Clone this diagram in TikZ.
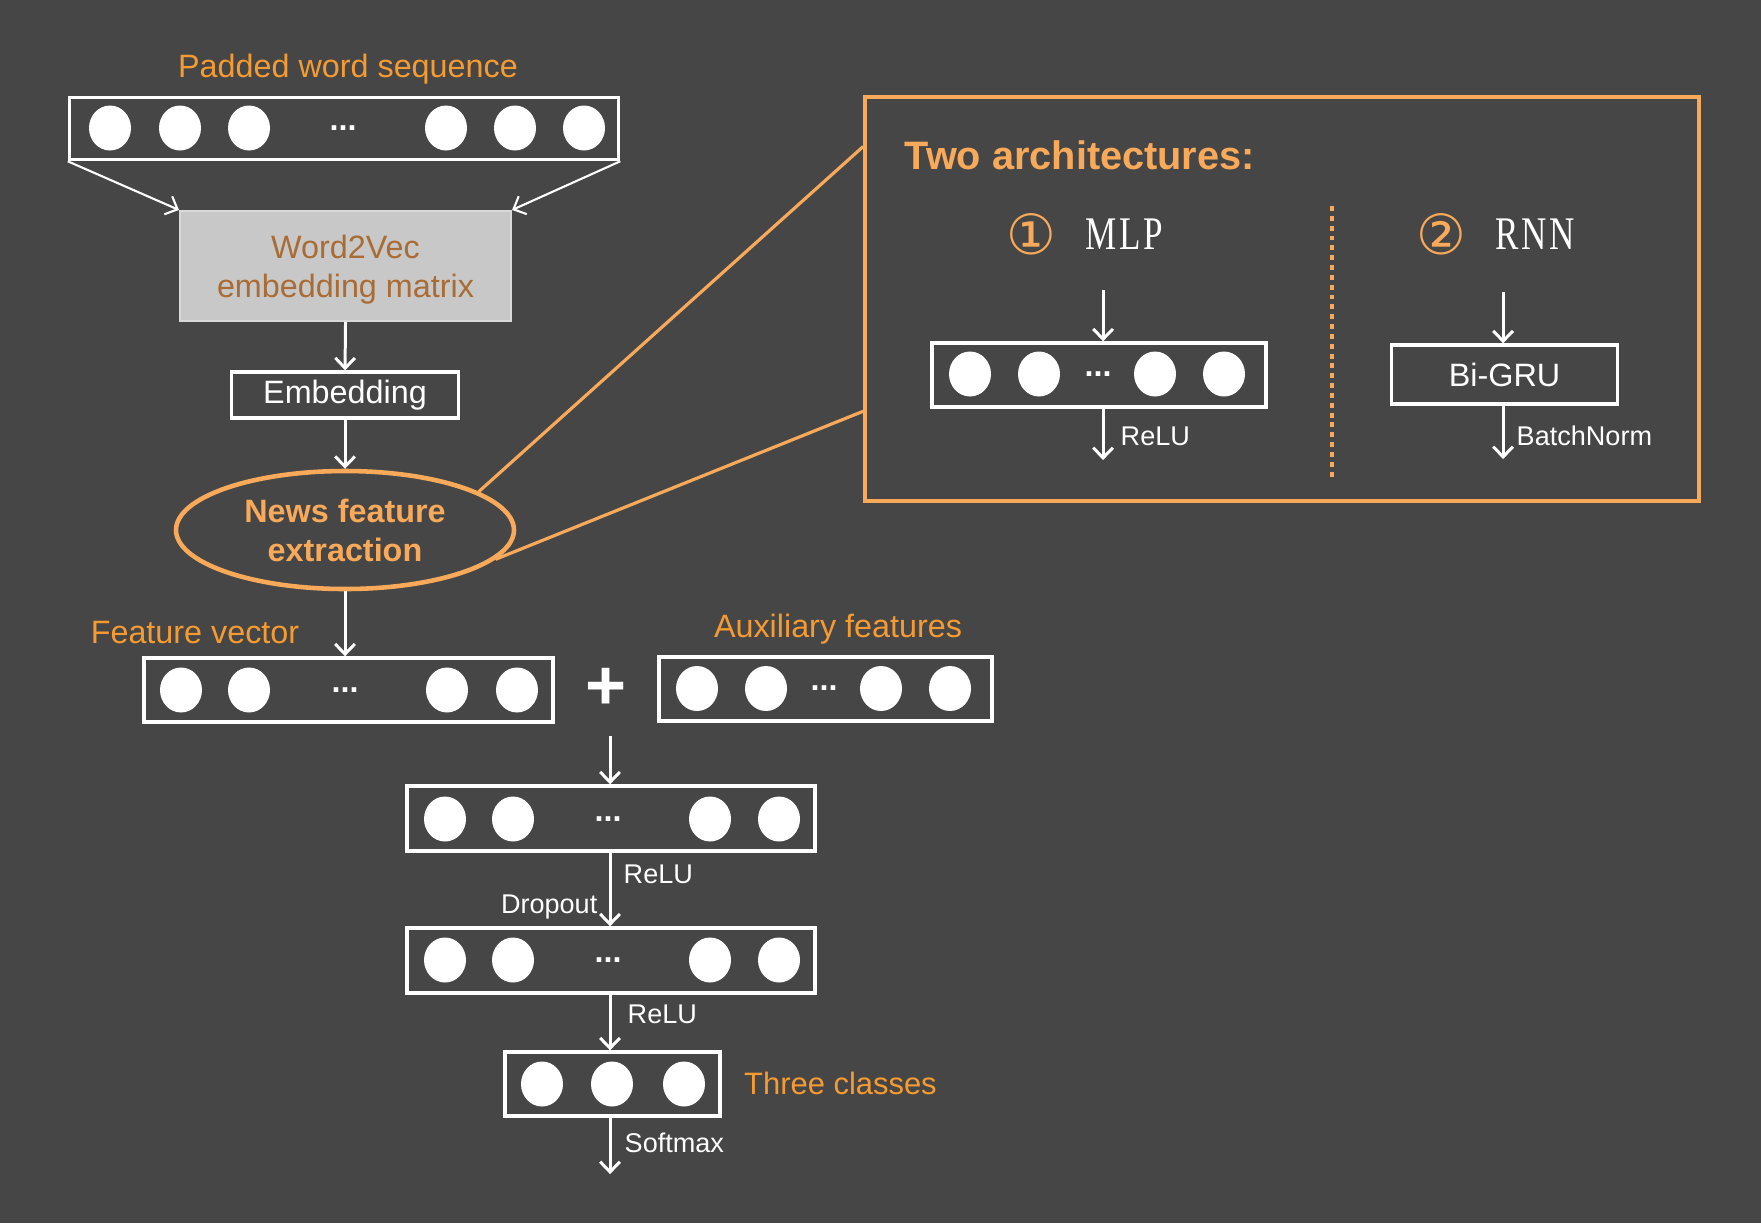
\documentclass[tikz,border=0pt]{standalone}
\usepackage{graphicx}
\usepackage{fontspec}
\setmainfont{Liberation Sans}
\newfontfamily\circledfont{DejaVu Sans}
\newfontfamily\archfont{Liberation Serif}
\usetikzlibrary{arrows.meta,shapes.geometric}

\definecolor{slate}{RGB}{70,70,70}
\definecolor{amber}{RGB}{245,155,50}
\definecolor{peach}{RGB}{248,170,90}
\definecolor{umber}{RGB}{168,108,52}
\definecolor{matrixgray}{RGB}{200,200,200}

\newcommand{\archname}[1]{\scalebox{0.75}[1]{#1}}

\tikzset{
  layer/.style={draw=white, line width=1pt, inner sep=0pt},
  body/.style={text=white, font=\fontsize{9.2}{11.1}\selectfont, inner sep=0pt},
  caption/.style={text=amber, font=\fontsize{9.2}{11.1}\selectfont, inner sep=0pt},
  actlabel/.style={text=white, font=\fontsize{7.7}{9}\selectfont, inner sep=0pt, anchor=west},
  ellip/.style={text=white, font=\fontsize{9.2}{11}\selectfont\bfseries, inner sep=0pt},
  flow/.style={draw=white, line width=0.85pt, -{Straight Barb[length=2.9pt,width=5.6pt]}},
  zoomline/.style={draw=peach, line width=0.9pt},
}

\begin{document}
\begin{tikzpicture}[scale=0.1]
                \fill [slate] (0,0) rectangle (176.1,-122.3);
                \useasboundingbox (0,0) rectangle (176.1,-122.3);
                % word sequence and embedding
                \node [caption] (seqlabel) at (34.8,-6.95) {Padded word sequence};
                \node [layer, minimum width=54.9mm, minimum height=6.2mm] (seq) at (34.4,-12.85) {};
                \fill [white] (11.0,-12.8) ellipse (2.1 and 2.25);
                \fill [white] (18.0,-12.8) ellipse (2.1 and 2.25);
                \fill [white] (24.9,-12.8) ellipse (2.1 and 2.25);
                \fill [white] (44.6,-12.8) ellipse (2.1 and 2.25);
                \fill [white] (51.5,-12.8) ellipse (2.1 and 2.25);
                \fill [white] (58.4,-12.8) ellipse (2.1 and 2.25);
                \node [ellip] (seqdots) at (34.3,-12.8) {...};
                \node [fill=matrixgray, draw=matrixgray!70!white, line width=0.6pt, minimum width=33.1mm, minimum height=11.0mm, inner sep=0pt] (w2v) at (34.55,-26.6) {};
                \node [text=umber, font=\fontsize{9.2}{11.1}\selectfont, align=center, inner sep=0pt] (w2vtext) at (34.55,-27.0) {Word2Vec\\embedding matrix};
                \node [layer, body, minimum width=22.7mm, minimum height=4.6mm] (emb) at (34.5,-39.5) {Embedding};
                \node [ellipse, draw=peach, line width=1.3pt, minimum width=33.8mm, minimum height=11.8mm, inner sep=0pt,
                       text=peach, font=\fontsize{9.2}{11.1}\selectfont\bfseries, align=center] (news) at (34.5,-53.0) {News feature\\extraction};
                \draw [flow, line width=0.6pt] (seq.south west) -- (w2v.north west);
                \draw [flow, line width=0.6pt] (seq.south east) -- (w2v.north east);
                \draw [flow] (w2v.south) -- (emb.north);
                \draw [flow] (emb.south) -- (news.north);
                % the two architectures
                \node [draw=peach, line width=1.1pt, minimum width=83.4mm, minimum height=40.4mm, inner sep=0pt] (arch) at (128.2,-29.9) {};
                \draw [zoomline] (news.16) -- (arch.160.2);
                \draw [zoomline] (news.-11) -- (arch.195.6);
                \node [text=peach, font=\fontsize{11.3}{13}\selectfont\bfseries, anchor=west, inner sep=0pt] (archtitle) at (90.4,-15.5) {Two architectures:};
                \node [text=peach, font=\circledfont\fontsize{15.8}{18}\selectfont, inner sep=0pt] (mlpnum) at (103.1,-23.4) {①};
                \node [text=white, font=\archfont\fontsize{13.3}{15}\selectfont, inner sep=0pt] (mlpname) at (112.4,-23.4) {\archname{M\kern1pt L\kern1pt P}};
                \node [text=peach, font=\circledfont\fontsize{15.8}{18}\selectfont, inner sep=0pt] (rnnnum) at (144.1,-23.4) {②};
                \node [text=white, font=\archfont\fontsize{13.3}{15}\selectfont, inner sep=0pt] (rnnname) at (153.5,-23.4) {\archname{R\kern1pt N\kern1pt N}};
                \draw [peach, line width=0.9pt, dash pattern=on 1.4pt off 1.4pt] (133.2,-20.6) -- (133.2,-47.7);
                \node [layer, minimum width=33.4mm, minimum height=6.4mm] (mlp) at (109.9,-37.5) {};
                \fill [white] (97.0,-37.4) ellipse (2.1 and 2.25);
                \fill [white] (103.9,-37.4) ellipse (2.1 and 2.25);
                \fill [white] (115.5,-37.4) ellipse (2.1 and 2.25);
                \fill [white] (122.4,-37.4) ellipse (2.1 and 2.25);
                \node [ellip] (mlpdots) at (109.8,-37.4) {...};
                \coordinate (mlpin) at (110.3,-29.0);
                \coordinate (mlpout) at (110.3,-46.0);
                \draw [flow] (mlpin) -- (mlpin |- mlp.north);
                \draw [flow] (mlpout |- mlp.south) -- (mlpout);
                \node [actlabel] (mlprelu) at (112.0,-43.6) {ReLU};
                \node [layer, body, minimum width=22.6mm, minimum height=5.9mm] (gru) at (150.45,-37.45) {Bi-GRU};
                \coordinate (gruin) at (150.3,-29.2);
                \coordinate (gruout) at (150.3,-45.9);
                \draw [flow] (gruin) -- (gruin |- gru.north);
                \draw [flow] (gruout |- gru.south) -- (gruout);
                \node [actlabel] (grunorm) at (151.6,-43.6) {BatchNorm};
                % classifier
                \node [caption] (featlabel) at (19.5,-63.3) {Feature vector};
                \node [layer, minimum width=40.9mm, minimum height=6.4mm] (feat) at (34.85,-69.0) {};
                \fill [white] (18.1,-69.0) ellipse (2.1 and 2.25);
                \fill [white] (24.9,-69.0) ellipse (2.1 and 2.25);
                \fill [white] (44.7,-69.0) ellipse (2.1 and 2.25);
                \fill [white] (51.7,-69.0) ellipse (2.1 and 2.25);
                \node [ellip] (featdots) at (34.5,-69.0) {...};
                \draw [flow] (news.south) -- (news.south |- feat.north);
                \node [text=white, font=\fontsize{20}{24}\selectfont\bfseries, inner sep=0pt] (plus) at (60.6,-68.9) {+};
                \node [caption] (auxlabel) at (83.8,-62.9) {Auxiliary features};
                \node [layer, minimum width=33.3mm, minimum height=6.4mm] (aux) at (82.55,-68.9) {};
                \fill [white] (69.7,-68.85) ellipse (2.1 and 2.25);
                \fill [white] (76.6,-68.85) ellipse (2.1 and 2.25);
                \fill [white] (88.1,-68.85) ellipse (2.1 and 2.25);
                \fill [white] (95.0,-68.85) ellipse (2.1 and 2.25);
                \node [ellip] (auxdots) at (82.4,-68.8) {...};
                \node [layer, minimum width=40.8mm, minimum height=6.5mm] (hid1) at (61.1,-81.85) {};
                \fill [white] (44.5,-81.9) ellipse (2.1 and 2.25);
                \fill [white] (51.3,-81.9) ellipse (2.1 and 2.25);
                \fill [white] (71.0,-81.9) ellipse (2.1 and 2.25);
                \fill [white] (77.9,-81.9) ellipse (2.1 and 2.25);
                \node [ellip] (hid1dots) at (60.8,-81.9) {...};
                \coordinate (mergein) at (61.0,-73.6);
                \draw [flow] (mergein) -- (mergein |- hid1.north);
                \node [layer, minimum width=40.8mm, minimum height=6.5mm] (hid2) at (61.1,-96.05) {};
                \fill [white] (44.5,-96.0) ellipse (2.1 and 2.25);
                \fill [white] (51.3,-96.0) ellipse (2.1 and 2.25);
                \fill [white] (71.0,-96.0) ellipse (2.1 and 2.25);
                \fill [white] (77.9,-96.0) ellipse (2.1 and 2.25);
                \node [ellip] (hid2dots) at (60.8,-96.0) {...};
                \draw [flow] (mergein |- hid1.south) -- (mergein |- hid2.north);
                \node [actlabel] (hid1relu) at (62.3,-87.4) {ReLU};
                \node [actlabel, anchor=east] (hid1drop) at (59.8,-90.7) {Dropout};
                \node [layer, minimum width=21.5mm, minimum height=6.4mm] (out) at (61.25,-108.4) {};
                \fill [white] (54.2,-108.4) ellipse (2.1 and 2.25);
                \fill [white] (61.2,-108.4) ellipse (2.1 and 2.25);
                \fill [white] (68.4,-108.4) ellipse (2.1 and 2.25);
                \draw [flow] (mergein |- hid2.south) -- (mergein |- out.north);
                \node [actlabel] (hid2relu) at (62.7,-101.4) {ReLU};
                \node [caption, anchor=west, font=\fontsize{8.8}{10.6}\selectfont] (outlabel) at (74.35,-108.3) {Three classes};
                \coordinate (probs) at (61.0,-117.4);
                \draw [flow] (probs |- out.south) -- (probs);
                \node [actlabel] (softmax) at (62.4,-114.3) {Softmax};
            \end{tikzpicture}
\end{document}
